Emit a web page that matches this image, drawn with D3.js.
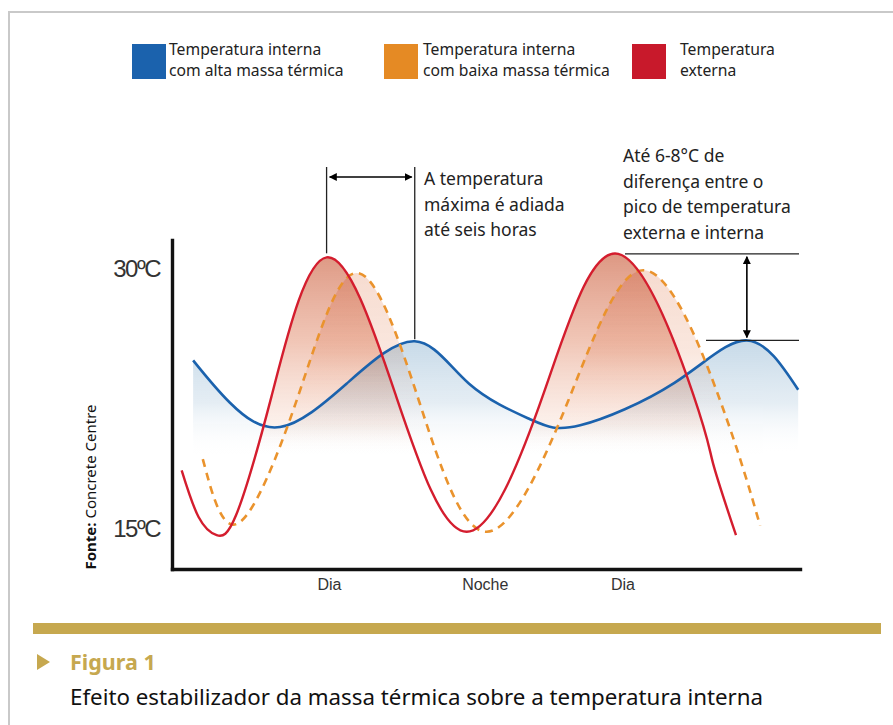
<!DOCTYPE html>
<html>
<head>
<meta charset="utf-8">
<script src="https://cdn.jsdelivr.net/npm/d3@7"></script>
<style>
  body { margin: 0; background: #fff; }
  svg { display: block; }
</style>
</head>
<body>
<script>
// readings: [hour, °C]
const externalTemp = [
  [0.8, 18.3], [2.2, 15.6], [3.7, 14.55], [5.3, 15.7], [8.25, 22.6], [12.8, 30.6],
  [18.5, 22.7], [24.4, 14.75], [30.8, 22.8], [36.95, 30.8], [43.15, 22.7], [44.8, 18.7],
  [46.7, 14.55]
];
const lowMassTemp = [
  [2.55, 18.95], [5.5, 15.25], [10.4, 22.5], [15.3, 29.7], [20.5, 22.2], [26.05, 14.75],
  [32.8, 22.3], [39.15, 29.85], [45.35, 22.4], [48.7, 15.1]
];
const highMassTemp = [
  [1.75, 24.65], [4.8, 22.2], [8.95, 20.8], [14.45, 23.3], [20.1, 25.75], [24.6, 23.3],
  [29.65, 21.25], [33.8, 20.9], [41.6, 23.35], [47.6, 25.8], [51.85, 22.95]
];

const periodTicks = [13, 25.9, 37.3];
const periodLabels = ["Dia", "Noche", "Dia"];
const tempTicks = [30, 15];

const legendLabels = [
  ["Temperatura interna", "com alta massa térmica"],
  ["Temperatura interna", "com baixa massa térmica"],
  ["Temperatura", "externa"]
];
const legendColors = ["#1b62ad", "#e58a24", "#c8192b"];

const delayNote = ["A temperatura", "máxima é adiada", "até seis horas"];
const gapNote = ["Até 6-8°C de", "diferença entre o", "pico de temperatura", "externa e interna"];

const W = 893, H = 725;
const svg = d3.select("body").append("svg")
  .attr("width", W).attr("height", H)
  .style("font-family", "'Noto Sans', 'Open Sans', sans-serif");

// frame
svg.append("path")
  .attr("d", `M${W},12H9V${H}`)
  .attr("fill", "none").attr("stroke", "#c9c9c9").attr("stroke-width", 2);

const x = d3.scaleLinear().domain([0, 52]).range([172, 800]);
const y = d3.scaleLinear().domain([12.6, 31.6]).range([569, 240]);
const fadeLevel = 19.2; // fills fade out near here

const defs = svg.append("defs");
function grad(id, stops) {
  const g = defs.append("linearGradient").attr("id", id)
    .attr("gradientUnits", "userSpaceOnUse")
    .attr("x1", 0).attr("x2", 0).attr("y1", y(31)).attr("y2", y(fadeLevel));
  stops.forEach(s => g.append("stop").attr("offset", s[0]).attr("stop-color", s[1]).attr("stop-opacity", s[2]));
}
grad("gBlue", [[0, "#a4c2da", 0.85], [0.4, "#adc9de", 0.75], [0.75, "#d4e2ed", 0.6], [1, "#ffffff", 0]]);
grad("gRed", [[0, "#d6836a", 0.85], [0.45, "#e9a890", 0.65], [0.85, "#f7dacd", 0.4], [1, "#ffffff", 0]]);
grad("gOrange", [[0, "#eaa88c", 0.45], [0.5, "#f2c4ae", 0.4], [1, "#ffffff", 0]]);

defs.append("clipPath").attr("id", "aboveFade")
  .append("rect").attr("x", 0).attr("y", 0).attr("width", W).attr("height", y(fadeLevel));

const curve = d3.curveNatural;
const line = d3.line().x(d => x(d[0])).y(d => y(d[1])).curve(curve);
const area = d3.area().x(d => x(d[0])).y0(y(fadeLevel)).y1(d => y(d[1])).curve(curve);

const fills = svg.append("g").attr("clip-path", "url(#aboveFade)");
fills.append("path").attr("d", area(highMassTemp)).attr("fill", "url(#gBlue)");
fills.append("path").attr("d", area(lowMassTemp)).attr("fill", "url(#gOrange)")
  .style("mix-blend-mode", "multiply");
fills.append("path").attr("d", area(externalTemp)).attr("fill", "url(#gRed)")
  .style("mix-blend-mode", "multiply");

svg.append("path").attr("d", line(highMassTemp))
  .attr("fill", "none").attr("stroke", legendColors[0]).attr("stroke-width", 2.6);
svg.append("path").attr("d", line(lowMassTemp))
  .attr("fill", "none").attr("stroke", "#ea932d").attr("stroke-width", 2.6)
  .attr("stroke-dasharray", "8,6");
svg.append("path").attr("d", line(externalTemp))
  .attr("fill", "none").attr("stroke", "#d41d2e").attr("stroke-width", 2.4);

// axes
const yAxis = svg.append("g").attr("transform", `translate(${x(0)},0)`)
  .call(d3.axisLeft(y).tickValues(tempTicks).tickSize(0).tickPadding(12).tickFormat(d => d + "ºC"));
const xAxis = svg.append("g").attr("transform", `translate(0,${y(12.6)})`)
  .call(d3.axisBottom(x).tickValues(periodTicks).tickSize(0).tickPadding(10).tickFormat((d, i) => periodLabels[i]));
[yAxis, xAxis].forEach(a => a.select(".domain")
  .attr("stroke", "#111").attr("stroke-width", 3.4).attr("stroke-linecap", "square"));
yAxis.selectAll("text").attr("fill", "#333").style("font-family", "'Liberation Sans', sans-serif")
  .style("font-size", "24px").style("letter-spacing", "-1.5px").attr("dy", "0.36em");
xAxis.selectAll("text").attr("fill", "#333").style("font-family", "'Liberation Sans', sans-serif")
  .style("font-size", "16px");

// source note
svg.append("text")
  .attr("transform", `translate(96,${487}) rotate(-90)`)
  .attr("text-anchor", "middle").attr("fill", "#111").style("font-size", "15px")
  .call(t => {
    t.append("tspan").attr("font-weight", "bold").text("Fonte:");
    t.append("tspan").text(" Concrete Centre");
  });

// legend
const legendX = [132, 384, 632];
const textGap = [37, 39, 48];
const leg = svg.append("g").selectAll("g").data(legendLabels).join("g")
  .attr("transform", (d, i) => `translate(${legendX[i]},44)`);
leg.append("rect").attr("width", 34).attr("height", 35).attr("fill", (d, i) => legendColors[i]);
leg.append("text").attr("fill", "#222").style("font-size", "15.7px")
  .attr("x", (d, i) => textGap[i])
  .selectAll("tspan").data(d => d).join("tspan")
  .attr("x", function() { return d3.select(this.parentNode).attr("x"); })
  .attr("y", (d, i) => 11 + i * 21).text(d => d);

// annotation: peak delay
const extPeak1 = d3.greatest(externalTemp.filter(d => d[0] < 24), d => d[1]);
const bluePeak1 = d3.greatest(highMassTemp.filter(d => d[0] < 30), d => d[1]);
const ink = "#222";
defs.append("marker").attr("id", "arrow").attr("viewBox", "0 0 10 10")
  .attr("refX", 9).attr("refY", 5).attr("markerWidth", 5).attr("markerHeight", 5)
  .attr("orient", "auto-start-reverse")
  .append("path").attr("d", "M0,0L10,5L0,10Z").attr("fill", "#000");

const ann = svg.append("g").attr("stroke", ink).attr("stroke-width", 1.3);
ann.append("line").attr("x1", x(extPeak1[0])).attr("x2", x(extPeak1[0]))
  .attr("y1", 167).attr("y2", y(extPeak1[1]) - 4);
ann.append("line").attr("x1", x(bluePeak1[0])).attr("x2", x(bluePeak1[0]))
  .attr("y1", 167).attr("y2", y(bluePeak1[1]) - 2);
ann.append("line").attr("x1", x(extPeak1[0]) + 3).attr("x2", x(bluePeak1[0]) - 3)
  .attr("y1", 177).attr("y2", 177).attr("stroke", "#000").attr("stroke-width", 1.6)
  .attr("marker-start", "url(#arrow)").attr("marker-end", "url(#arrow)");

svg.append("text").attr("fill", ink).style("font-size", "17.5px")
  .selectAll("tspan").data(delayNote).join("tspan")
  .attr("x", 424).attr("y", (d, i) => 185 + i * 25.5).text(d => d);

// annotation: peak difference
const extPeak2 = d3.greatest(externalTemp.filter(d => d[0] > 30), d => d[1]);
const bluePeak2 = d3.greatest(highMassTemp.filter(d => d[0] > 30), d => d[1]);
ann.append("line").attr("x1", 625).attr("x2", 799).attr("y1", y(extPeak2[1])).attr("y2", y(extPeak2[1]));
ann.append("line").attr("x1", 706).attr("x2", 799).attr("y1", y(bluePeak2[1])).attr("y2", y(bluePeak2[1]));
ann.append("line").attr("x1", x(bluePeak2[0])).attr("x2", x(bluePeak2[0]))
  .attr("y1", y(extPeak2[1]) + 3).attr("y2", y(bluePeak2[1]) - 3)
  .attr("stroke", "#000").attr("stroke-width", 1.6)
  .attr("marker-start", "url(#arrow)").attr("marker-end", "url(#arrow)");

svg.append("text").attr("fill", ink).style("font-size", "17.5px")
  .selectAll("tspan").data(gapNote).join("tspan")
  .attr("x", 623).attr("y", (d, i) => 162 + i * 25.5).text(d => d);

// caption
svg.append("rect").attr("x", 33).attr("y", 623).attr("width", 848).attr("height", 11).attr("fill", "#c6a84f");
svg.append("path").attr("d", "M37,654L50,662L37,670Z").attr("fill", "#c6a84f");
svg.append("text").attr("x", 70).attr("y", 670).attr("fill", "#c6a84f")
  .style("font-size", "21.5px").style("font-weight", "bold").text("Figura 1");
svg.append("text").attr("x", 70).attr("y", 705).attr("fill", "#111")
  .style("font-size", "22.3px").text("Efeito estabilizador da massa térmica sobre a temperatura interna");
</script>
</body>
</html>
